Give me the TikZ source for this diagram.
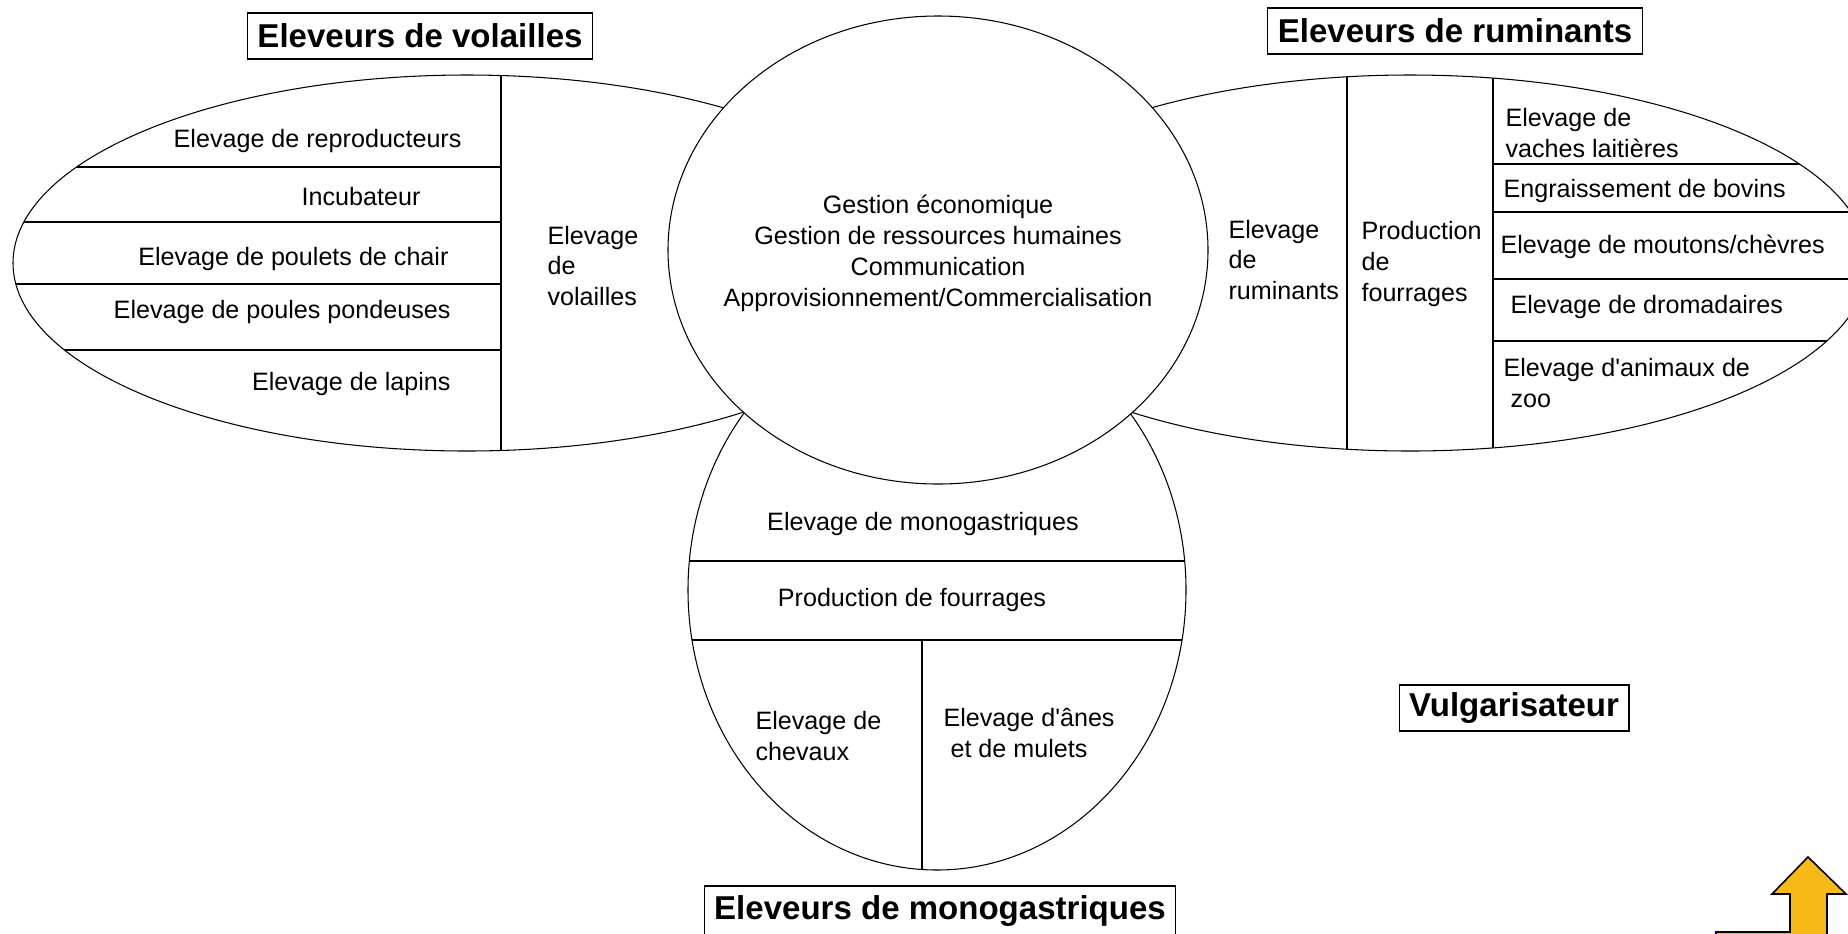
\documentclass[tikz,border=0pt]{standalone}
\usepackage{fontspec}
\setmainfont{Liberation Sans}
\usetikzlibrary{shapes.geometric}
\definecolor{flecheor}{RGB}{245,185,24}
\tikzset{
  txt/.style={inner sep=0pt, font=\fontsize{14.3}{17.6}\selectfont},
  titre/.style={draw, line width=0.6pt, inner xsep=2mm, inner ysep=0pt, minimum height=9.2mm, font=\fontsize{18.8}{22}\selectfont\bfseries},
}
\begin{document}
\begin{tikzpicture}[x=0.2mm, y=-0.2mm, line width=0.6pt]
    \useasboundingbox (0,0) rectangle (1848,933);
    \clip (0,0) rectangle (1848,933);
    % Volailles
    \draw[fill=white] (467,263) ellipse [x radius=454, y radius=188];
    \begin{scope}
        \clip (467,263) ellipse [x radius=454, y radius=188];
        \foreach \y in {167,222,284,350}{
            \draw (0,\y) -- (501,\y);
        }
        \draw (501,0) -- (501,500);
    \end{scope}
    \node[txt, anchor=east] (repro) at (462,141) {Elevage de reproducteurs};
    \node[txt, anchor=east] (incub) at (421,197) {Incubateur};
    \node[txt, anchor=east] (chair) at (449,259) {Elevage de poulets de chair};
    \node[txt, anchor=east] (pondeuses) at (451,312) {Elevage de poules pondeuses};
    \node[txt, anchor=east] (lapins) at (451,384) {Elevage de lapins};
    \node[txt, anchor=west, align=left] (elevvol) at (547,266) {Elevage\\de\\volailles};
    % Ruminants
    \draw[fill=white] (1410,263) ellipse [x radius=458, y radius=188];
    \begin{scope}
        \clip (1410,263) ellipse [x radius=458, y radius=188];
        \foreach \y in {164,212,279,341}{
            \draw (1493,\y) -- (1900,\y);
        }
        \foreach \x in {1347,1493}{
            \draw (\x,0) -- (\x,500);
        }
    \end{scope}
    \node[txt, anchor=west, align=left] (elevrum) at (1228,260) {Elevage\\de\\ruminants};
    \node[txt, anchor=west, align=left] (fourrum) at (1361,264) {Production\\de\\fourrages};
    \node[txt, anchor=west, align=left] (vaches) at (1505,133) {Elevage de\\vaches laitières};
    \node[txt, anchor=west] (bovins) at (1503,191) {Engraissement de bovins};
    \node[txt, anchor=west] (moutons) at (1500,247) {Elevage de moutons/chèvres};
    \node[txt, anchor=west] (droma) at (1510,307) {Elevage de dromadaires};
    \node[txt, anchor=west, align=left] (zoo) at (1503,383) {Elevage d\textquotesingle animaux de\\\hspace*{1.4mm}zoo};
    % Monogastriques
    \draw[fill=white] (937,590) ellipse [x radius=249, y radius=280];
    \begin{scope}
        \clip (937,590) ellipse [x radius=249, y radius=280];
        \foreach \y in {561,640}{
            \draw (600,\y) -- (1300,\y);
        }
        \draw (922,640) -- (922,900);
    \end{scope}
    \node[txt] (elevmono) at (923,524) {Elevage de monogastriques};
    \node[txt] (fourmono) at (912,600) {Production de fourrages};
    \node[txt, anchor=west, align=left] (chevaux) at (755,736) {Elevage de\\chevaux};
    \node[txt, anchor=west, align=left] (anes) at (943,733) {Elevage d\textquotesingle ânes\\\hspace*{1.4mm}et de mulets};
    % Centre
    \draw[fill=white] (938,250) ellipse [x radius=270, y radius=234];
    \node[txt, align=center] (gestion) at (938,253) {Gestion économique\\Gestion de ressources humaines\\Communication\\Approvisionnement/Commercialisation};
    % Titres
    \node[titre] (tvol) at (420,36) {Eleveurs de volailles};
    \node[titre] (trum) at (1455,31) {Eleveurs de ruminants};
    \node[titre, minimum height=10mm] (tmono) at (940,911) {Eleveurs de monogastriques};
    \node[titre] (tvulg) at (1514,708) {Vulgarisateur};
    % Fleche
    \draw[fill=flecheor, line width=0.9pt] (1716,932) -- (1790,932) -- (1790,894) -- (1772,894) -- (1808,857) -- (1846,894) -- (1827,894) -- (1827,980) -- (1716,980) -- cycle;
\end{tikzpicture}
\end{document}
